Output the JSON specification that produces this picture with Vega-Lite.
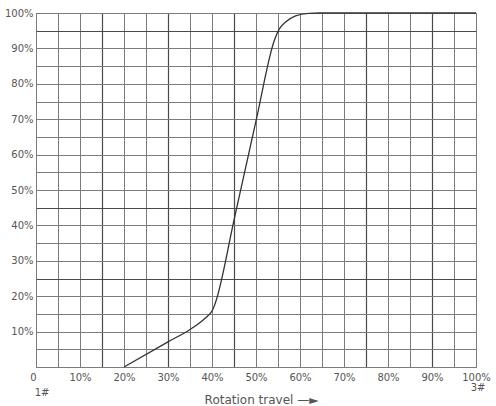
{
  "$schema": "https://vega.github.io/schema/vega-lite/v6.json",
  "autosize": "none",
  "width": 440,
  "height": 354,
  "padding": {"left": 36, "top": 13, "right": 20, "bottom": 39},
  "background": "white",
  "config": {
    "view": {"stroke": "#555", "strokeWidth": 1},
    "font": "DejaVu Sans"
  },
  "datasets": {
    "curve": [
      {"travel": 0.20, "output": 0.0},
      {"travel": 0.30, "output": 0.071},
      {"travel": 0.35, "output": 0.106},
      {"travel": 0.38, "output": 0.133},
      {"travel": 0.39, "output": 0.144},
      {"travel": 0.40, "output": 0.158},
      {"travel": 0.405, "output": 0.172},
      {"travel": 0.41, "output": 0.19},
      {"travel": 0.45, "output": 0.415},
      {"travel": 0.50, "output": 0.695},
      {"travel": 0.542, "output": 0.924},
      {"travel": 0.553, "output": 0.955},
      {"travel": 0.568, "output": 0.975},
      {"travel": 0.59, "output": 0.992},
      {"travel": 0.62, "output": 0.999},
      {"travel": 0.645, "output": 1.0},
      {"travel": 1.0, "output": 1.0}
    ],
    "notes": [
      {"label": "1#", "travel": 0.0, "output": 0.0},
      {"label": "3#", "travel": 1.0, "output": 0.0}
    ]
  },
  "encoding": {
    "x": {
      "field": "travel", "type": "quantitative",
      "scale": {"domain": [0, 1], "nice": false, "zero": false},
      "axis": {
        "values": [0, 0.05, 0.1, 0.15, 0.2, 0.25, 0.3, 0.35, 0.4, 0.45, 0.5, 0.55, 0.6, 0.65, 0.7, 0.75, 0.8, 0.85, 0.9, 0.95, 1.0],
        "labelExpr": "round(datum.value*100) == 0 ? '0' : (round(datum.value*20) % 2 == 0 ? format(datum.value, '.0%') : '')",
        "labelOffset": {"condition": {"test": "round(datum.value*100) == 0", "value": -3}, "value": 0},
        "domain": false,
        "ticks": false,
        "labelPadding": 5,
        "labelFontSize": 10,
        "labelColor": "#555",
        "labelFlush": false,
        "labelOverlap": false,
        "grid": true,
        "gridColor": {"condition": {"test": "indexof([15, 30, 45, 75, 90], round(datum.value*100)) >= 0", "value": "#4a4a4a"}, "value": "#7c7c7c"},
        "gridWidth": {"condition": {"test": "indexof([15, 30, 45, 75, 90], round(datum.value*100)) >= 0", "value": 1.2}, "value": 1},
        "title": "Rotation travel —►",
        "titleFontSize": 12,
        "titleFontWeight": "normal",
        "titleColor": "#555",
        "titleX": 225,
        "titleY": 32,
        "titleBaseline": "middle",
        "titleAlign": "center"
      }
    },
    "y": {
      "field": "output", "type": "quantitative",
      "scale": {"domain": [0, 1], "nice": false},
      "axis": {
        "values": [0, 0.05, 0.1, 0.15, 0.2, 0.25, 0.3, 0.35, 0.4, 0.45, 0.5, 0.55, 0.6, 0.65, 0.7, 0.75, 0.8, 0.85, 0.9, 0.95, 1.0],
        "labelExpr": "round(datum.value*100) > 0 && round(datum.value*20) % 2 == 0 ? format(datum.value, '.0%') : ''",
        "domain": false,
        "ticks": false,
        "labelPadding": 3,
        "labelFontSize": 10,
        "labelColor": "#555",
        "labelFlush": false,
        "labelOverlap": false,
        "grid": true,
        "gridColor": {"condition": {"test": "indexof([95, 45, 25], round(datum.value*100)) >= 0", "value": "#4a4a4a"}, "value": "#7c7c7c"},
        "gridWidth": {"condition": {"test": "indexof([95, 45, 25], round(datum.value*100)) >= 0", "value": 1.2}, "value": 1},
        "title": null
      }
    }
  },
  "layer": [
    {
      "data": {"name": "curve"},
      "mark": {"type": "line", "interpolate": "monotone", "color": "#333", "strokeWidth": 1.3}
    },
    {
      "data": {"name": "notes"},
      "transform": [{"filter": "datum.label == '1#'"}],
      "mark": {"type": "text", "dx": 6, "dy": 26, "fontSize": 10, "color": "#555", "align": "center", "baseline": "middle"},
      "encoding": {"text": {"field": "label"}}
    },
    {
      "data": {"name": "notes"},
      "transform": [{"filter": "datum.label == '3#'"}],
      "mark": {"type": "text", "dx": 2, "dy": 21, "fontSize": 10, "color": "#555", "align": "center", "baseline": "middle"},
      "encoding": {"text": {"field": "label"}}
    }
  ]
}
